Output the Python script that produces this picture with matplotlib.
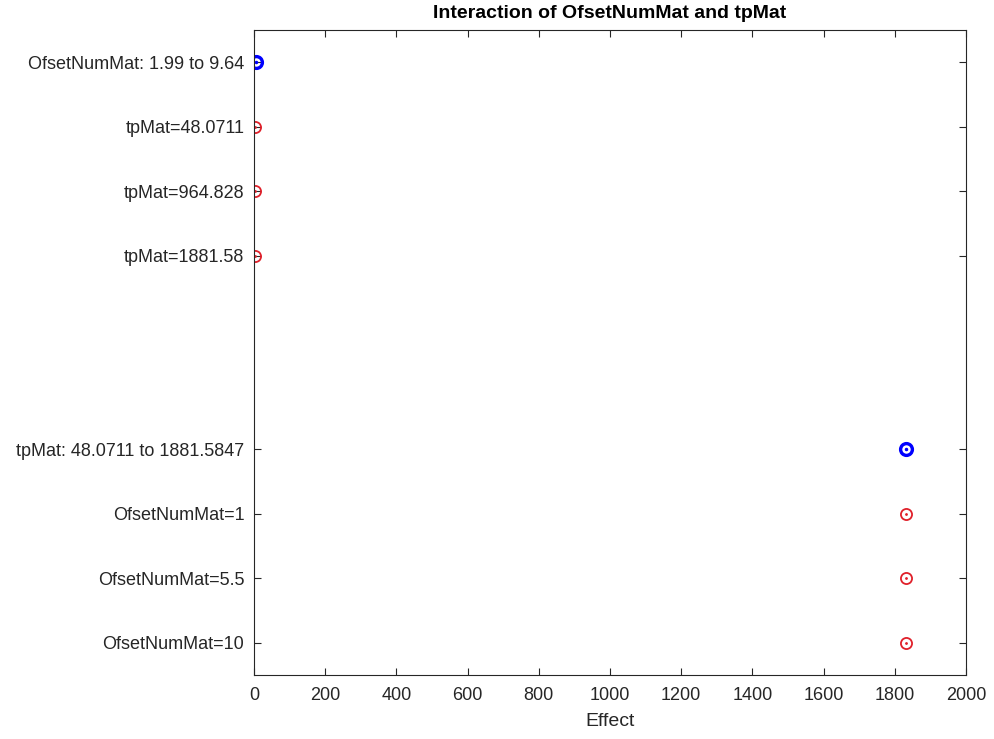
import numpy as np
import matplotlib.pyplot as plt

plt.rcParams['font.family'] = ['Liberation Sans', 'DejaVu Sans']

# interaction plot data (top to bottom)
labels = ['OfsetNumMat: 1.99 to 9.64', 'tpMat=48.0711', 'tpMat=964.828', 'tpMat=1881.58',
          'tpMat: 48.0711 to 1881.5847', 'OfsetNumMat=1', 'OfsetNumMat=5.5', 'OfsetNumMat=10']
label_pos = [1, 2, 3, 4, 7, 8, 9, 10]
main_pos = [1, 7]
main_eff = [5.8, 1831]
cond_pos = [2, 3, 4, 8, 9, 10]
cond_eff = [1.5, 1.5, 1.5, 1831, 1831, 1831]

fig = plt.figure(figsize=(9.94, 7.39), dpi=100)
ax = fig.add_axes([254/994, 1 - 675/739, 712/994, 645/739])

dark = '#262626'
ax.plot(main_eff, main_pos, 'o', ms=8.5, mfc='none', mec='#0000ff', mew=2.4, ls='none')
ax.plot(main_eff, main_pos, '.', ms=3, color='#0000ff', ls='none')
ax.plot(cond_eff, cond_pos, 'o', ms=8, mfc='none', mec='#e0202a', mew=1.3, ls='none')
ax.plot(cond_eff, cond_pos, '.', ms=2, color='#e0202a', ls='none')

ax.set_xlim(0, 2000)
ax.set_ylim(10.5, 0.5)
ax.set_xticks(np.arange(0, 2001, 200))
ax.set_yticks(label_pos)
ax.set_yticklabels(labels)
ax.tick_params(direction='in', top=True, right=True, length=5, colors=dark,
               labelsize=13, labelcolor=dark, width=0.8)
ax.tick_params(axis='y', pad=7)
ax.tick_params(axis='x', pad=9)
for s in ax.spines.values():
    s.set_color(dark)
    s.set_linewidth(0.8)
ax.set_xlabel('Effect', fontsize=14, color=dark, labelpad=6)
ax.text(0.5, 1.0 + 16/645, 'Interaction of OfsetNumMat and tpMat', transform=ax.transAxes,
        ha='center', va='center', fontsize=14, fontweight='bold', color='black')

fig.savefig('out.png', dpi=100)
